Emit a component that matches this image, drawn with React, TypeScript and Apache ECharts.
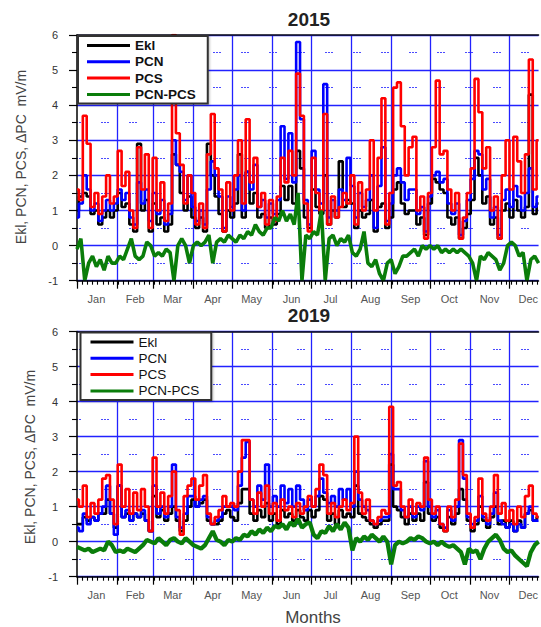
import React, { useEffect, useRef } from "react";
import * as echarts from "echarts";

const MONTHS = ["Jan", "Feb", "Mar", "Apr", "May", "Jun", "Jul", "Aug", "Sep", "Oct", "Nov", "Dec"];
const MONTH_STARTS = [0, 31, 59, 90, 120, 151, 181, 212, 243, 273, 304, 334];
const MONTH_MIDS = [15, 45, 74, 105, 135, 166, 196, 227, 258, 288, 319, 349];
const STEP_DAYS = 3;
const LAST_DAY = 357;
const NAMES = ["Ekl", "PCN", "PCS", "PCN-PCS"];
const Y_TICKS = [-1, 0, 1, 2, 3, 4, 5, 6];

const ekl2015 = [
  1.0, 1.4, 1.5, 1.4, 0.9, 1.0, 0.6, 0.8, 1.0, 0.8,
  1.0, 1.5, 1.1, 1.2, 0.6, 0.4, 2.9, 1.0, 1.3, 0.4,
  1.2, 0.6, 0.8, 0.4, 0.6, 2.6, 2.3, 1.5, 1.0, 1.4,
  0.8, 0.5, 0.8, 0.4, 2.9, 2.0, 1.4, 0.9, 0.4, 1.0,
  0.8, 1.2, 2.6, 0.8, 2.1, 1.2, 1.5, 0.8, 0.9, 0.5,
  0.8, 0.6, 0.9, 1.7, 1.3, 1.7, 1.2, 2.7, 2.2, 0.8,
  0.5, 1.6, 1.1, 0.9, 2.0, 0.6, 1.0, 0.8, 2.4, 1.1,
  1.3, 1.2, 0.5, 1.0, 0.8, 0.9, 1.3, 0.4, 1.1, 1.2,
  0.5, 0.8, 1.6, 1.8, 1.2, 0.9, 1.0, 1.0, 0.6, 0.8,
  0.3, 1.2, 1.9, 1.8, 1.6, 1.5, 0.8, 0.6, 0.8, 0.2,
  0.5, 0.9, 1.3, 2.5, 2.0, 1.2, 1.4, 0.6, 0.8, 0.2,
  1.0, 1.2, 0.8, 1.3, 1.0, 0.8, 1.1, 4.3, 0.9, 1.2,
];
const pcn2015 = [
  0.8, 1.2, 2.0, 1.6, 1.0, 1.2, 0.7, 1.0, 1.3, 1.0,
  1.2, 1.6, 1.3, 1.5, 0.8, 0.6, 1.8, 1.2, 1.6, 0.7,
  1.5, 0.9, 1.3, 0.6, 0.9, 3.0, 2.3, 2.1, 1.3, 2.0,
  1.1, 0.7, 1.0, 0.6, 1.6, 2.4, 2.0, 1.4, 0.5, 1.4,
  1.1, 1.6, 2.0, 1.0, 2.1, 1.6, 2.3, 1.1, 1.3, 0.8,
  1.2, 0.9, 1.3, 3.4, 1.9, 3.2, 1.8, 5.8, 3.6, 1.3,
  0.6, 2.7, 1.6, 1.2, 4.6, 0.8, 1.3, 1.0, 1.6, 1.3,
  2.5, 1.7, 0.8, 1.5, 1.1, 1.3, 2.0, 0.5, 1.7, 2.8,
  0.7, 1.2, 2.0, 2.2, 1.8, 1.3, 1.6, 1.6, 0.9, 1.1,
  0.4, 1.4, 2.0, 2.1, 1.8, 1.9, 1.2, 0.9, 1.2, 0.3,
  0.7, 1.3, 1.9, 2.7, 2.6, 1.6, 1.9, 0.8, 1.1, 0.3,
  1.3, 1.6, 1.1, 1.7, 1.4, 1.0, 1.5, 2.2, 1.1, 1.4,
];
const pcs2015 = [
  1.6, 1.3, 3.7, 2.9, 1.1, 1.5, 0.9, 1.4, 2.0, 1.2,
  1.4, 2.7, 1.7, 2.1, 1.0, 0.5, 2.8, 1.6, 2.6, 0.5,
  2.5, 1.0, 1.8, 0.7, 1.2, 6.0, 3.2, 2.3, 1.2, 2.0,
  1.5, 0.6, 1.2, 0.5, 2.6, 3.75, 2.2, 1.6, 0.4, 1.8,
  1.0, 2.0, 3.0, 1.2, 3.6, 1.8, 2.5, 1.1, 1.5, 0.6,
  1.3, 0.7, 1.4, 2.5, 1.8, 2.7, 2.0, 4.9, 3.7, 1.2,
  0.4, 2.5, 1.5, 1.0, 3.75, 0.6, 1.4, 0.8, 1.1, 1.5,
  1.2, 2.0, 0.6, 1.8, 1.0, 1.6, 3.0, 1.0, 2.5, 4.2,
  0.6, 1.5, 4.5, 4.65, 3.4, 2.0, 2.8, 3.1, 1.0, 1.4,
  0.2, 1.5, 2.8, 4.7, 2.6, 2.7, 1.6, 1.0, 1.5, 0.2,
  0.8, 1.5, 2.2, 4.75, 3.8, 2.2, 2.8, 1.0, 1.4, 0.2,
  2.0, 3.0, 1.6, 3.1, 2.4, 1.5, 2.6, 5.3, 1.6, 3.0,
];
const diff2015 = [
  -0.1, 0.2, -1.0, -0.5, -0.3, -0.6, -0.4, -0.7, -0.3, -0.5,
  -0.5, -0.3, -0.4, -0.1, 0.2, -0.3, -0.4, -0.3, 0.1, 0.0,
  -0.3, -0.2, -0.3, -0.1, -0.2, -1.0, 0.0, 0.2, 0.0, -0.5,
  0.0, 0.1, 0.0, 0.1, 0.3, -0.5, 0.1, 0.2, 0.1, 0.3,
  0.2, 0.1, 0.3, 0.2, 0.4, 0.3, 0.6, 0.4, 0.3, 0.5,
  0.5, 0.8, 0.7, 1.0, 0.7, 0.9, 0.6, 1.5, -1.0, 0.3,
  0.2, 0.4, 0.3, 1.0, -1.0, 0.2, 0.3, 0.0, 0.2, 0.1,
  0.3, -0.2, -0.3, -0.1, 0.4, -0.5, -0.6, -0.4, -0.8, -1.0,
  -0.5, -0.4, -0.8, -0.6, -0.3, -0.3, -0.2, -0.1, -0.3, 0.0,
  -0.1, 0.0, -0.1, 0.0, -0.2, -0.1, -0.2, -0.1, -0.2, -0.1,
  -0.2, -0.3, -0.5, -1.0, -0.3, -0.4, -0.2, -0.3, -0.4, -0.7,
  -0.5, 0.0, 0.1, 0.0, -0.3, -0.2, -1.0, -0.4, -0.3, -0.5,
];

const ekl2019 = [
  0.5, 0.5, 0.7, 0.6, 0.7, 0.6, 0.8, 0.8, 1.2, 0.8,
  0.4, 1.6, 0.7, 0.8, 0.6, 0.8, 0.7, 0.8, 0.6, 0.3,
  1.3, 0.7, 0.9, 0.6, 0.8, 1.0, 0.6, 0.3, 0.6, 1.0,
  1.2, 1.0, 1.1, 1.2, 0.6, 0.5, 0.5, 0.6, 0.8, 0.9,
  0.7, 0.6, 1.1, 1.5, 1.5, 0.8, 0.6, 0.9, 0.7, 1.1,
  0.6, 0.8, 0.5, 0.9, 0.7, 0.8, 0.6, 0.9, 0.7, 0.6,
  0.9, 0.7, 0.9, 1.3, 1.2, 0.6, 0.8, 0.5, 0.9, 0.7,
  0.8, 0.7, 1.6, 0.8, 0.7, 0.6, 0.5, 0.4, 0.5, 0.6,
  0.6, 2.2, 1.0, 0.9, 0.7, 0.5, 0.8, 0.6, 0.8, 0.6,
  1.7, 0.8, 0.6, 0.7, 0.4, 0.3, 0.7, 0.5, 0.8, 1.5,
  1.2, 0.6, 0.3, 0.5, 1.0, 0.6, 0.4, 0.7, 1.0, 0.5,
  0.6, 0.4, 0.6, 0.3, 0.6, 0.4, 0.8, 0.9, 0.6, 0.7,
];
const pcn2019 = [
  0.4, 0.3, 0.8, 0.5, 0.7, 0.6, 0.8, 1.0, 1.6, 0.8,
  0.2, 1.6, 0.7, 0.9, 0.6, 0.8, 0.7, 0.9, 0.6, 0.3,
  1.6, 0.8, 1.0, 0.7, 1.0, 2.2, 0.7, 0.4, 0.8, 1.3,
  1.3, 1.0, 1.2, 1.3, 0.7, 0.5, 0.6, 0.7, 1.0, 1.0,
  1.0, 0.9, 1.6, 2.4, 2.85, 1.2, 1.0, 1.6, 1.2, 2.2,
  1.0, 1.3, 1.0, 1.6, 1.1, 1.5, 1.0, 1.6, 1.2, 0.9,
  1.2, 1.0, 1.3, 1.8, 1.4, 1.1, 1.3, 1.0, 1.5, 1.2,
  1.5, 1.0, 2.0, 1.2, 1.0, 0.9, 0.6, 0.5, 0.6, 0.7,
  0.7, 2.5, 1.5, 1.5, 0.9, 0.7, 1.0, 0.7, 1.0, 0.9,
  2.3, 1.0, 0.7, 0.9, 0.5, 0.4, 0.9, 0.6, 1.0, 2.9,
  1.8, 0.7, 0.5, 0.6, 1.3, 0.7, 0.5, 0.8, 1.4, 0.6,
  0.5, 0.4, 0.5, 0.3, 0.5, 0.4, 0.8, 1.0, 0.6, 0.6,
];
const pcs2019 = [
  1.2, 1.0, 1.6, 0.7, 1.1, 0.8, 1.2, 1.8, 1.9, 1.2,
  0.5, 2.2, 1.0, 1.5, 0.8, 1.4, 0.9, 1.5, 1.0, 0.3,
  2.4, 1.0, 1.4, 0.8, 1.3, 2.0, 0.9, 0.2, 1.3, 1.6,
  1.8, 1.2, 1.6, 1.9, 0.8, 0.5, 0.7, 0.9, 1.3, 1.0,
  1.1, 1.0, 2.0, 2.9, 2.9, 1.2, 0.8, 1.4, 1.0, 1.6,
  0.8, 1.1, 0.6, 1.2, 0.9, 1.0, 0.7, 1.1, 0.8, 1.0,
  1.3, 1.0, 1.5, 2.2, 1.9, 0.8, 1.1, 0.7, 1.0, 1.2,
  0.9, 1.1, 3.0, 1.4, 0.8, 1.2, 0.6, 0.5, 0.7, 0.9,
  0.8, 3.85, 1.6, 1.7, 1.0, 0.7, 1.2, 0.8, 1.1, 1.0,
  2.4, 1.2, 0.8, 1.0, 0.5, 0.3, 1.0, 0.7, 1.2, 2.8,
  1.9, 0.8, 0.4, 0.7, 1.8, 0.8, 0.6, 1.0, 1.9, 0.8,
  1.1, 0.6, 0.9, 0.5, 1.0, 0.7, 1.3, 1.6, 0.8, 0.7,
];
const diff2019 = [
  -0.15, -0.2, -0.25, -0.2, -0.3, -0.25, -0.2, -0.25, 0.0, -0.1,
  -0.3, -0.25, -0.3, -0.2, -0.25, -0.3, -0.2, -0.1, 0.05, 0.0,
  -0.05, 0.1, 0.0, -0.1, 0.05, 0.1, 0.0, -0.05, 0.1, 0.0,
  -0.1, -0.15, -0.2, -0.1, 0.1, 0.3, 0.05, 0.0, -0.1, 0.05,
  0.0, 0.1, 0.05, 0.2, 0.15, 0.3, 0.2, 0.35, 0.25, 0.4,
  0.3, 0.45, 0.4, 0.5, 0.35, 0.55, 0.45, 0.65, 0.4, 0.5,
  0.55, 0.2, 0.1, 0.3, 0.25, 0.45, 0.3, 0.5, 0.35, 0.55,
  0.4, -0.25, 0.1, 0.0, 0.15, 0.05, 0.2, 0.1, 0.0, 0.15,
  0.0, -0.65, -0.1, 0.0, -0.05, 0.0, 0.1, 0.05, 0.15, 0.1,
  0.0, -0.05, 0.0, -0.1, 0.0, -0.1, -0.15, -0.1, -0.2, -0.3,
  -0.65, -0.2, -0.3, -0.25, -0.5, -0.2, 0.0, 0.1, 0.2, 0.05,
  -0.2, -0.3, -0.25, -0.4, -0.5, -0.6, -0.7, -0.3, -0.1, 0.0,
];

const PANELS = [
  { title: "2015", series: [ekl2015, pcn2015, pcs2015, diff2015], top: 35, height: 245.7, boldLegend: true, diffWidth: 3.6 },
  { title: "2019", series: [ekl2019, pcn2019, pcs2019, diff2019], top: 331.5, height: 245.2, boldLegend: false, diffWidth: 4.2 },
];
const COLORS = ["#000000", "#0000ff", "#ff0000", "#0a7d0a"];
const FONT = "'Liberation Sans', Arial, Helvetica, sans-serif";
const GRID_BLUE = "#2222ff";

export default function App() {
  const ref = useRef<HTMLDivElement>(null);

  useEffect(() => {
    if (!ref.current) return;
    const chart = echarts.init(ref.current, null, { renderer: "svg" });
    const dayCats = Array.from({ length: LAST_DAY + 1 }, (_, i) => String(i));
    const toPairs = (vals: number[]) => vals.map((v, i) => [i * STEP_DAYS, v]);

    const grids: any[] = [];
    const xAxes: any[] = [];
    const yAxes: any[] = [];
    const series: any[] = [];
    const legends: any[] = [];
    const graphics: any[] = [];

    PANELS.forEach((p, gi) => {
      grids.push({ left: 77, right: 0, top: p.top, height: p.height, containLabel: false });
      const base = xAxes.length;
      xAxes.push({
        type: "category", gridIndex: gi, data: dayCats, boundaryGap: false, position: "bottom",
        axisLine: { show: false, onZero: false },
        axisTick: { show: true, interval: (i: number) => MONTH_STARTS.includes(i), length: 8, lineStyle: { color: "#000", width: 1.2 } },
        axisLabel: {
          show: true, interval: (i: number) => MONTH_MIDS.includes(i),
          formatter: (v: string) => MONTHS[MONTH_MIDS.indexOf(Number(v))] ?? "",
          color: "#555", fontSize: 11, margin: 13, fontFamily: FONT,
        },
        splitLine: { show: true, interval: (i: number) => MONTH_STARTS.includes(i) && i > 0, lineStyle: { color: GRID_BLUE, width: 1.3 } },
      });
      xAxes.push({
        type: "category", gridIndex: gi, data: dayCats, boundaryGap: false, position: "bottom",
        axisLine: { show: false, onZero: false },
        axisTick: { show: true, interval: (i: number) => i % 4 === 0, length: 4, lineStyle: { color: "#000", width: 1.1 } },
        axisLabel: { show: false }, splitLine: { show: false },
      });
      xAxes.push({
        type: "category", gridIndex: gi, data: dayCats, boundaryGap: false, position: "bottom", z: 3,
        axisLine: { show: true, onZero: false, lineStyle: { color: "#000", width: 1.5 } },
        axisTick: { show: false }, axisLabel: { show: false }, splitLine: { show: false },
      });
      xAxes.push({
        type: "category", gridIndex: gi, data: dayCats, boundaryGap: false, position: "top", z: 3,
        axisLine: { show: true, onZero: false, lineStyle: { color: "#111", width: 1.5 } },
        axisTick: { show: false }, axisLabel: { show: false }, splitLine: { show: false },
      });
      yAxes.push({
        type: "value", gridIndex: gi, min: Y_TICKS[0], max: Y_TICKS[Y_TICKS.length - 1], interval: 1,
        axisLine: { show: true, lineStyle: { color: "#000", width: 1.5 } },
        axisTick: { show: true, length: 8, lineStyle: { color: "#000", width: 1.2 } },
        minorTick: { show: true, splitNumber: 2, length: 5, lineStyle: { color: "#000", width: 1.1 } },
        axisLabel: { color: "#333", fontSize: 11, margin: 19, fontFamily: FONT },
        splitLine: { show: true, lineStyle: { color: GRID_BLUE, width: 1.3 } },
        minorSplitLine: { show: true, lineStyle: { color: "#4a4aff", width: 1, type: [2, 1, 2, 1, 2, 20], dashOffset: 4 } },
      });
      p.series.forEach((vals, si) => {
        series.push({
          name: NAMES[si], type: "line", xAxisIndex: base, yAxisIndex: gi,
          data: toPairs(vals), showSymbol: false, symbol: "none", color: COLORS[si],
          step: si === 3 ? false : "middle",
          lineStyle: { color: COLORS[si], width: si === 3 ? p.diffWidth : 2.6 },
          silent: true, z: 2 + si * 0.01,
        });
      });
      legends.push({
        data: NAMES, orient: "vertical", left: gi === 0 ? 78 : 80.5, top: gi === 0 ? 36 : 332.5,
        icon: "rect", itemWidth: 43, itemHeight: 3, itemGap: 2.3,
        padding: gi === 0 ? [2.5, 12, 2, 9] : [2.5, 12, 2, 10],
        backgroundColor: "#fff", borderColor: "#333", borderWidth: 2,
        shadowColor: "rgba(0,0,0,0.25)", shadowBlur: 2, shadowOffsetX: 1, shadowOffsetY: 1,
        selectedMode: false,
        textStyle: { fontSize: 13.5, fontWeight: p.boldLegend ? "bold" : "normal", color: "#111", lineHeight: 14, fontFamily: FONT },
      });
      graphics.push({
        type: "text", x: 309, y: p.top - 16, silent: true,
        style: { text: p.title, font: `bold 19px ${FONT}`, fill: "#222", textAlign: "center", textVerticalAlign: "middle" },
      });
      graphics.push({
        type: "text", x: gi === 0 ? 21 : 30, y: gi === 0 ? 157 : 457, rotation: Math.PI / 2, silent: true,
        style: { text: "Ekl, PCN, PCS, ΔPC  mV/m", font: `14px ${FONT}`, fill: "#444", textAlign: "center", textVerticalAlign: "middle" },
      });
    });

    graphics.push({
      type: "text", x: 313, y: 617, silent: true,
      style: { text: "Months", font: `17px ${FONT}`, fill: "#444", textAlign: "center", textVerticalAlign: "middle" },
    });

    chart.setOption({
      animation: false,
      backgroundColor: "#fff",
      textStyle: { fontFamily: FONT },
      grid: grids,
      xAxis: xAxes,
      yAxis: yAxes,
      legend: legends,
      series,
      graphic: graphics,
    });
    return () => chart.dispose();
  }, []);

  return <div ref={ref} style={{ position: "fixed", left: 0, top: 0, width: 541, height: 627 }} />;
}
